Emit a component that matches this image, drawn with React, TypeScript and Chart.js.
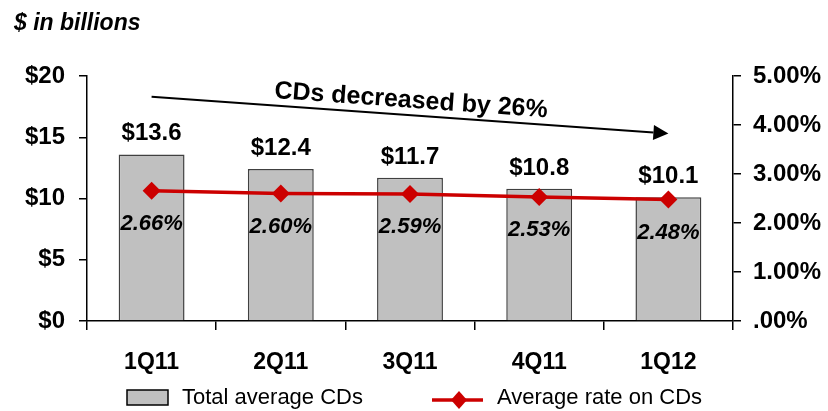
import React, { useEffect, useRef } from 'react';
import { Chart, registerables } from 'chart.js';

Chart.register(...registerables);

const categories = ['1Q11', '2Q11', '3Q11', '4Q11', '1Q12'];
const totalAverageCDs = [13.6, 12.4, 11.7, 10.8, 10.1];
const averageRateOnCDs = [2.66, 2.6, 2.59, 2.53, 2.48];
const leftAxisRange = [0, 20];
const leftAxisStep = 5;
const rightAxisRange = [0, 5];
const rightAxisStep = 1;
const arrowStart = { index: 0, value: 18.3 };
const arrowEnd = { index: 4, value: 15.3 };
const arrowLabel = 'CDs decreased by 26%';
const unitsLabel = '$ in billions';
const seriesLabels = ['Total average CDs', 'Average rate on CDs'];

const FONT = "'Liberation Sans', Arial, sans-serif";
const BAR_FILL = '#C0C0C0';
const BAR_BORDER = '#404040';
const RED = '#CC0000';

const decorPlugin = {
  id: 'decor',
  afterDatasetsDraw(chart: any) {
    const { ctx, scales } = chart;
    const x = scales.x;
    const y = scales.y;
    ctx.save();

    // bar value labels
    const barMeta = chart.getDatasetMeta(0);
    ctx.fillStyle = '#000';
    ctx.textAlign = 'center';
    ctx.textBaseline = 'alphabetic';
    ctx.font = `bold 24px ${FONT}`;
    barMeta.data.forEach((bar: any, i: number) => {
      ctx.fillText('$' + totalAverageCDs[i].toFixed(1), bar.x, bar.y - 14);
    });

    // line value labels
    const lineMeta = chart.getDatasetMeta(1);
    ctx.font = `italic bold 22px ${FONT}`;
    ctx.textBaseline = 'middle';
    lineMeta.data.forEach((pt: any, i: number) => {
      ctx.fillText(averageRateOnCDs[i].toFixed(2) + '%', pt.x, pt.y + 33);
    });

    // arrow
    const x0 = x.getPixelForValue(arrowStart.index);
    const y0 = y.getPixelForValue(arrowStart.value);
    const x1 = x.getPixelForValue(arrowEnd.index);
    const y1 = y.getPixelForValue(arrowEnd.value);
    const ang = Math.atan2(y1 - y0, x1 - x0);
    const headLen = 15;
    const headHalf = 7.5;
    const bx = x1 - headLen * Math.cos(ang);
    const by = y1 - headLen * Math.sin(ang);
    ctx.strokeStyle = '#000';
    ctx.lineWidth = 2;
    ctx.beginPath();
    ctx.moveTo(x0, y0);
    ctx.lineTo(bx, by);
    ctx.stroke();
    ctx.beginPath();
    ctx.moveTo(x1, y1);
    ctx.lineTo(bx + headHalf * Math.sin(ang), by - headHalf * Math.cos(ang));
    ctx.lineTo(bx - headHalf * Math.sin(ang), by + headHalf * Math.cos(ang));
    ctx.closePath();
    ctx.fillStyle = '#000';
    ctx.fill();

    // arrow text
    const mx = (x0 + x1) / 2;
    const my = (y0 + y1) / 2;
    const off = 14.5;
    ctx.save();
    ctx.translate(mx + off * Math.sin(ang), my - off * Math.cos(ang));
    ctx.rotate(ang);
    ctx.font = `bold 25px ${FONT}`;
    ctx.textAlign = 'center';
    ctx.textBaseline = 'middle';
    ctx.fillText(arrowLabel, 0, 0);
    ctx.restore();

    // units title
    ctx.font = `italic bold 23px ${FONT}`;
    ctx.textAlign = 'left';
    ctx.textBaseline = 'alphabetic';
    ctx.fillStyle = '#000';
    ctx.fillText(unitsLabel, 14, 30);

    // legend
    const ly = 398;
    ctx.fillStyle = BAR_FILL;
    ctx.strokeStyle = '#000';
    ctx.lineWidth = 1.5;
    ctx.fillRect(127, 390, 41, 15);
    ctx.strokeRect(127, 390, 41, 15);
    ctx.fillStyle = '#000';
    ctx.font = `22px ${FONT}`;
    ctx.textBaseline = 'middle';
    ctx.fillText(seriesLabels[0], 182, ly);

    ctx.strokeStyle = RED;
    ctx.lineWidth = 3.5;
    ctx.beginPath();
    ctx.moveTo(432, 400);
    ctx.lineTo(483, 400);
    ctx.stroke();
    ctx.fillStyle = RED;
    ctx.beginPath();
    ctx.moveTo(459, 391);
    ctx.lineTo(467, 400);
    ctx.lineTo(459, 409);
    ctx.lineTo(451, 400);
    ctx.closePath();
    ctx.fill();
    ctx.fillStyle = '#000';
    ctx.fillText(seriesLabels[1], 497, ly);

    ctx.restore();
  },
};

export default function App() {
  const ref = useRef<HTMLCanvasElement | null>(null);

  useEffect(() => {
    document.body.style.margin = '0';
    const canvas = ref.current;
    if (!canvas) return;
    const axisFont = { family: FONT, size: 24, weight: 'bold' as const };
    const chart = new Chart(canvas, {
      type: 'bar',
      data: {
        labels: categories,
        datasets: [
          {
            type: 'bar',
            label: seriesLabels[0],
            data: totalAverageCDs,
            backgroundColor: BAR_FILL,
            borderColor: BAR_BORDER,
            borderWidth: 1.5,
            barPercentage: 0.51,
            categoryPercentage: 1,
            yAxisID: 'y',
            order: 1,
          },
          {
            type: 'line',
            label: seriesLabels[1],
            data: averageRateOnCDs,
            borderColor: RED,
            backgroundColor: RED,
            borderWidth: 3.5,
            pointStyle: 'rectRot',
            pointRadius: 9,
            pointBackgroundColor: RED,
            pointBorderColor: RED,
            pointBorderWidth: 0,
            yAxisID: 'y1',
            order: 0,
          } as any,
        ],
      },
      options: {
        responsive: false,
        animation: false,
        layout: { padding: { top: 76, left: 0, right: 0, bottom: 0 } },
        plugins: {
          legend: { display: false },
          tooltip: { enabled: false },
          title: { display: false },
        },
        scales: {
          x: {
            grid: {
              display: true,
              drawOnChartArea: false,
              drawTicks: true,
              tickLength: 9,
              color: '#000',
              lineWidth: 1.5,
            },
            border: { display: true, color: '#000', width: 1.5 },
            ticks: { color: '#000', font: { family: FONT, size: 23, weight: 'bold' }, padding: 19 },
            afterFit: (s: any) => {
              s.height = 90;
            },
          },
          y: {
            position: 'left',
            min: leftAxisRange[0],
            max: leftAxisRange[1],
            grid: {
              display: true,
              drawOnChartArea: false,
              drawTicks: true,
              tickLength: 8,
              color: '#000',
              lineWidth: 1.5,
            },
            border: { display: true, color: '#000', width: 1.5 },
            ticks: {
              stepSize: leftAxisStep,
              color: '#000',
              font: axisFont,
              padding: 14,
              callback: (v: any) => '$' + v,
            },
            afterFit: (s: any) => {
              s.width = 87;
            },
          },
          y1: {
            position: 'right',
            min: rightAxisRange[0],
            max: rightAxisRange[1],
            grid: {
              display: true,
              drawOnChartArea: false,
              drawTicks: true,
              tickLength: 8,
              color: '#000',
              lineWidth: 1.5,
            },
            border: { display: true, color: '#000', width: 1.5 },
            ticks: {
              stepSize: rightAxisStep,
              color: '#000',
              font: axisFont,
              padding: 12,
              callback: (v: any) => (v === 0 ? '.00%' : Number(v).toFixed(2) + '%'),
            },
            afterFit: (s: any) => {
              s.width = 95;
            },
          },
        },
      },
      plugins: [decorPlugin],
    });
    return () => chart.destroy();
  }, []);

  return (
    <div style={{ width: 828, height: 411, background: '#fff' }}>
      <canvas ref={ref} width={828} height={411} style={{ display: 'block' }} />
    </div>
  );
}
